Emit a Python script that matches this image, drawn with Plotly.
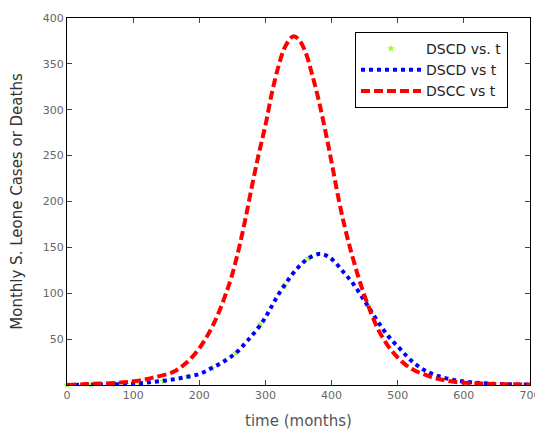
import plotly.graph_objects as go

# DSCC (cases) model curve
red_t = [0, 30, 65, 100, 130, 160, 175, 186, 200, 210, 220, 230, 240, 250, 260, 270, 280, 290, 300, 310, 320, 330, 342, 350, 360, 370, 380, 390, 400, 410, 420, 430, 440, 450, 460, 470, 485, 500, 520, 550, 580, 615, 650, 700]
red_v = [0, 1, 2, 4, 8, 14, 21, 28, 40, 51, 64, 80, 99, 121, 149, 182, 218, 252, 283, 319, 348, 369, 380, 377, 364, 340, 312, 279, 243, 205, 172, 144, 119, 97, 78, 61, 43, 30, 18, 9, 4, 2, 1, 0.5]

# DSCD (deaths) model curve
blue_t = [0, 50, 100, 125, 150, 175, 200, 220, 240, 257, 270, 281, 295, 305, 315, 330, 348, 365, 383, 395, 405, 418, 431, 446, 456, 470, 486, 504, 523, 546, 575, 610, 655, 700]
blue_v = [0, 0.5, 1.5, 3, 5, 8, 12, 19, 27, 36, 46, 55, 68, 80, 93, 110, 127, 138, 143, 140, 134, 123, 112, 96, 85, 69, 53, 39, 25, 14, 7, 3, 1, 0.5]

# DSCD data points
green_t = [0, 36.5, 73, 109.5, 146, 182.5, 219, 255.5, 292, 328.5, 365]
green_v = [0, 0.5, 1, 2, 4, 9, 18, 35, 66, 108, 138]

x_ticks = [0, 100, 200, 300, 400, 500, 600, 700]
y_ticks = [50, 100, 150, 200, 250, 300, 350, 400]

fig = go.Figure()
fig.add_trace(go.Scatter(x=green_t, y=green_v, mode="markers", name="DSCD vs. t",
                         marker=dict(symbol="star", size=6, color="#99ff33"),
                         cliponaxis=False))
fig.add_trace(go.Scatter(x=blue_t, y=blue_v, mode="lines", name="DSCD vs t",
                         line=dict(color="#0000ff", width=4, dash="4px,4px", shape="spline")))
fig.add_trace(go.Scatter(x=red_t, y=red_v, mode="lines", name="DSCC vs t",
                         line=dict(color="#ff0000", width=4, dash="9px,4px", shape="spline")))

tick_font = dict(family="DejaVu Sans, sans-serif", size=11, color="#666666")
fig.update_layout(
    width=535, height=424,
    margin=dict(l=59, r=13, t=10, b=47),
    paper_bgcolor="white", plot_bgcolor="white",
    showlegend=True,
    legend=dict(x=0.622, y=0.962, xanchor="left", yanchor="top",
                bordercolor="black", borderwidth=1, bgcolor="white",
                font=dict(family="DejaVu Sans, sans-serif", size=14, color="#222222"),
                itemwidth=60),
    xaxis=dict(range=[0, 700], tickvals=x_ticks, ticks="inside", ticklen=5,
               showline=True, linecolor="black", linewidth=1, mirror="ticks",
               showgrid=False, zeroline=False, tickfont=tick_font, automargin=False,
               title=dict(text="time (months)",
                          font=dict(family="DejaVu Sans, sans-serif", size=15, color="#555555"),
                          standoff=14)),
    yaxis=dict(range=[0, 400], tickvals=y_ticks, ticks="inside", ticklen=5,
               showline=True, linecolor="black", linewidth=1, mirror="ticks",
               showgrid=False, zeroline=False, tickfont=tick_font, automargin=False,
               title=dict(text="Monthly S. Leone Cases or Deaths",
                          font=dict(family="DejaVu Sans, sans-serif", size=15, color="#333333"),
                          standoff=22)),
)
fig.write_html("out.html")
